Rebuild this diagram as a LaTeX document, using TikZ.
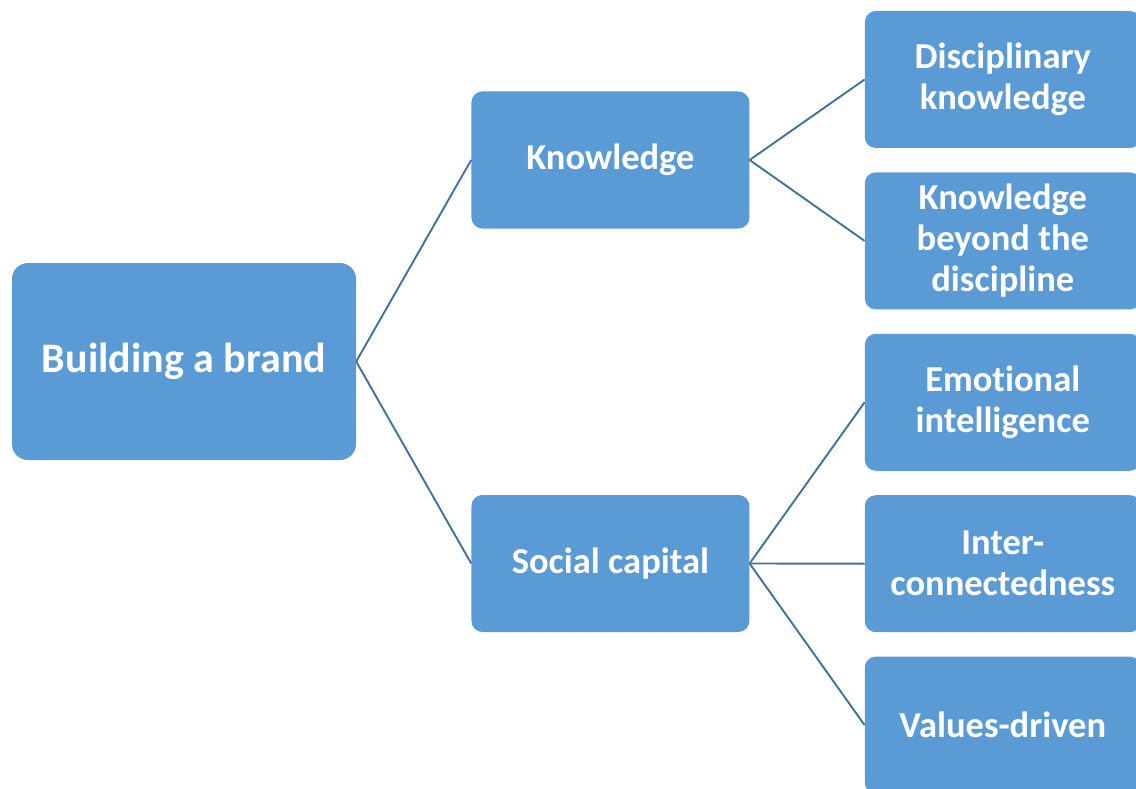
\documentclass[tikz,border=0pt]{standalone}
\usepackage{fontspec}
\setmainfont{Carlito}[Ligatures=NoCommon]
\usepackage{xcolor}
\usetikzlibrary{positioning}
\definecolor{boxblue}{HTML}{5B9BD5}
\definecolor{lineblue}{HTML}{41719C}

\begin{document}
\begin{tikzpicture}[x=1pt,y=1pt,
   box/.style={fill=boxblue,text=white,align=center,inner sep=0pt,rounded corners=11pt},
   rootbox/.style={box,minimum width=344pt,minimum height=197pt,rounded corners=16pt,
      font=\fontsize{42}{50}\selectfont\bfseries},
   midbox/.style={box,minimum width=278pt,minimum height=137pt,
      font=\fontsize{36.5}{41}\selectfont\bfseries},
   leafbox/.style={box,minimum width=276pt,minimum height=137pt,
      font=\fontsize{36.5}{41}\selectfont\bfseries},
   link/.style={draw=lineblue,line width=1.9pt}]
\useasboundingbox (0,0) rectangle (1136,-789);
\clip (0,0) rectangle (1136,-789);
% root and the two branches
\node[rootbox] (brand) at (184,-361.5) {Building a brand};
\node[midbox, right=115pt of brand.east, yshift=201.5pt] (know) {Knowledge};
\node[midbox, right=115pt of brand.east, yshift=-202pt] (social) {Social capital};
% leaves
\node[leafbox, right=115pt of know.east, yshift=80.5pt] (disc) {Disciplinary\\knowledge};
\node[leafbox, below=24pt of disc] (beyond) {Knowledge\\beyond the\\discipline};
\node[leafbox, below=24pt of beyond] (emo) {Emotional\\intelligence};
\node[leafbox, below=24pt of emo] (inter) {Inter-\\connectedness};
\node[leafbox, below=24pt of inter] (values) {Values-driven};
% connectors
\draw[link] (brand.east) -- (know.west);
\draw[link] (brand.east) -- (social.west);
\foreach \leaf in {disc,beyond}
   \draw[link] (know.east) -- (\leaf.west);
\foreach \leaf in {emo,inter,values}
   \draw[link] (social.east) -- (\leaf.west);
\end{tikzpicture}
\end{document}
